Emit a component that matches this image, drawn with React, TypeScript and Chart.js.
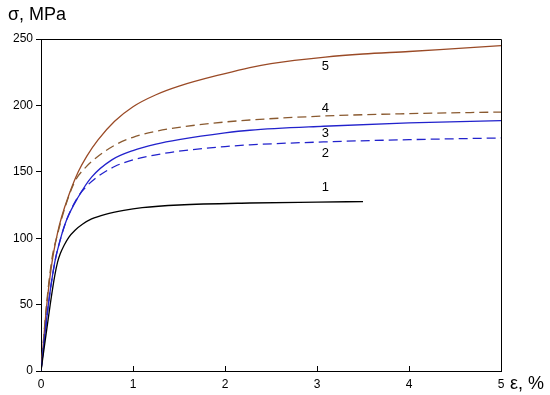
import React, { useEffect, useRef } from "react";
import { Chart, registerables } from "chart.js";

Chart.register(...registerables);

// Curve 1 (black, solid)
const eps1 = [0, 0.1, 0.15, 0.18, 0.21, 0.25, 0.3, 0.37, 0.45, 0.55, 0.7, 0.9, 1.1, 1.5, 2.27, 3.0, 3.5];
const sig1 = [0, 50, 72, 82, 88.5, 94.5, 100.5, 106, 110.5, 114.5, 118, 121, 123, 125, 126.5, 127.2, 127.6];
// Curve 2 (blue, dashed)
const eps2 = [0, 0.08, 0.15, 0.206, 0.28, 0.4, 0.48, 0.59, 0.8, 1.0, 1.25, 1.5, 2.0, 2.27, 3.07, 4.0, 5.0];
const sig2 = [0, 50, 82, 98, 114, 131, 138, 145, 154, 159, 162.8, 165.5, 169, 170.3, 172.5, 174.2, 175.5];
// Curve 3 (blue, solid)
const eps3 = [0, 0.08, 0.15, 0.206, 0.28, 0.405, 0.55, 0.77, 1.0, 1.25, 1.5, 2.0, 2.27, 3.07, 4.0, 5.0];
const sig3 = [0, 50, 82, 98, 114, 131, 146, 159, 166, 170.8, 174.2, 179.3, 181.3, 184.3, 186.8, 188.6];
// Curve 4 (brown, dashed)
const eps4 = [0, 0.06, 0.12, 0.18, 0.26, 0.37, 0.48, 0.59, 0.8, 1.0, 1.25, 1.5, 2.0, 2.27, 3.07, 4.0, 5.0];
const sig4 = [0, 50, 85, 103, 123, 143, 153, 160, 170, 176, 180.5, 183.5, 187.5, 189, 192, 193.8, 195];
// Curve 5 (brown, solid)
const eps5 = [0, 0.06, 0.12, 0.18, 0.224, 0.3, 0.405, 0.5, 0.62, 0.8, 1.0, 1.25, 1.5, 2.0, 2.27, 2.5, 3.09, 3.5, 4.0, 4.5, 5.0];
const sig5 = [0, 48, 82, 104, 116, 132, 150, 162, 174, 188, 199, 208, 214.5, 224, 228.5, 231.5, 236.4, 238.7, 240.6, 242.8, 245];

// Curve number labels
const curveNames = ["1", "2", "3", "4", "5"];
const curveLabelX = [3.09, 3.09, 3.09, 3.09, 3.09];
const curveLabelY = [138.6, 163.5, 179, 197.5, 229];

const xTicks = [0, 1, 2, 3, 4, 5];
const yTicks = [0, 50, 100, 150, 200, 250];

const BROWN = "#9a4a26";
const BROWN_D = "#8a5a30";
const BLUE = "#2222cc";
const FONT = "'Liberation Sans', Arial, sans-serif";

const toPts = (xs: number[], ys: number[]) => xs.map((x, i) => ({ x, y: ys[i] }));

export default function App() {
  const ref = useRef<HTMLCanvasElement | null>(null);
  useEffect(() => {
    document.body.style.margin = "0";
    const canvas = ref.current!;
    const base = { pointRadius: 0, borderWidth: 1.3, fill: false, cubicInterpolationMode: "monotone" as const, showLine: true };
    const overlay = {
      id: "overlay",
      afterDraw(chart: any) {
        const { ctx, chartArea: a, scales } = chart;
        const xs = scales.x, ys = scales.y;
        ctx.save();
        ctx.strokeStyle = "#000";
        ctx.lineWidth = 1;
        ctx.beginPath();
        ctx.moveTo(a.left, a.top + 0.5);
        ctx.lineTo(a.right + 0.5, a.top + 0.5);
        ctx.lineTo(a.right + 0.5, a.bottom);
        ctx.stroke();
        // inward x ticks
        ctx.beginPath();
        xTicks.forEach((t) => {
          if (t === 0 || t === 5) return;
          const px = Math.round(xs.getPixelForValue(t)) + 0.5;
          ctx.moveTo(px, a.bottom);
          ctx.lineTo(px, a.bottom - 5);
        });
        ctx.stroke();
        ctx.fillStyle = "#000";
        ctx.font = `13px ${FONT}`;
        ctx.textAlign = "center";
        ctx.textBaseline = "middle";
        curveNames.forEach((n, i) => {
          ctx.fillText(n, xs.getPixelForValue(curveLabelX[i]), ys.getPixelForValue(curveLabelY[i]));
        });
        ctx.font = `18px ${FONT}`;
        ctx.textAlign = "left";
        ctx.fillText("σ, MPa", 8, 15);
        ctx.fillText("ε, %", a.right + 9, a.bottom + 13);
        ctx.restore();
      },
    };
    const chart = new Chart(canvas, {
      type: "scatter",
      data: {
        datasets: [
          { ...base, label: "1", data: toPts(eps1, sig1), borderColor: "#000" },
          { ...base, label: "2", data: toPts(eps2, sig2), borderColor: BLUE, borderDash: [9, 5] },
          { ...base, label: "3", data: toPts(eps3, sig3), borderColor: BLUE },
          { ...base, label: "4", data: toPts(eps4, sig4), borderColor: BROWN_D, borderDash: [9, 5] },
          { ...base, label: "5", data: toPts(eps5, sig5), borderColor: BROWN },
        ],
      },
      options: {
        animation: false,
        responsive: false,
        layout: { padding: { left: 0, top: 39, right: 49, bottom: 0 } },
        plugins: { legend: { display: false }, tooltip: { enabled: false }, title: { display: false } },
        scales: {
          x: {
            type: "linear",
            min: 0,
            max: 5,
            afterFit: (s: any) => { s.height = 24; },
            afterBuildTicks: (s: any) => { s.ticks = xTicks.map((v) => ({ value: v })); },
            grid: { display: true, drawOnChartArea: false, drawTicks: false, color: "#000" },
            border: { display: true, color: "#000", width: 1 },
            ticks: { color: "#000", padding: 6, font: { family: FONT, size: 12 }, maxRotation: 0, autoSkip: false },
          },
          y: {
            type: "linear",
            min: 0,
            max: 250,
            afterFit: (s: any) => { s.width = 41; },
            afterBuildTicks: (s: any) => { s.ticks = yTicks.map((v) => ({ value: v })); },
            grid: { display: true, drawOnChartArea: false, drawTicks: true, tickLength: 5, color: "#000" },
            border: { display: true, color: "#000", width: 1 },
            ticks: { color: "#000", padding: 3, font: { family: FONT, size: 12 }, autoSkip: false },
          },
        },
      },
      plugins: [overlay],
    });
    return () => chart.destroy();
  }, []);
  return <canvas ref={ref} width={550} height={395} style={{ display: "block" }} />;
}
